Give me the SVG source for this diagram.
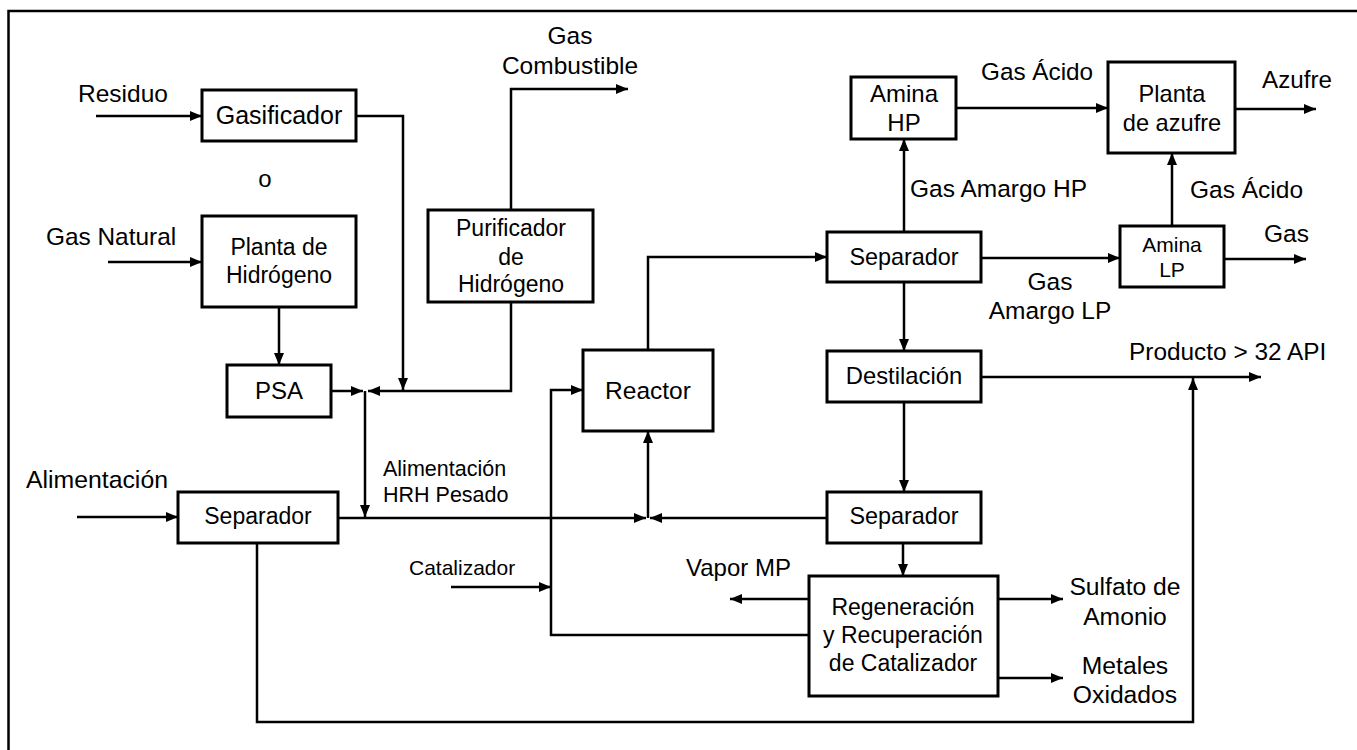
<svg xmlns="http://www.w3.org/2000/svg" width="1357" height="750" viewBox="0 0 1357 750">
<style>
.box{fill:#fff;stroke:#000;stroke-width:3}
.ln{fill:none;stroke:#000;stroke-width:2.5;marker-end:url(#ah)}
.lnp{fill:none;stroke:#000;stroke-width:2.5}
text{font-family:"Liberation Sans",Arial,sans-serif;fill:#000}
.c{text-anchor:middle}
</style>
<defs>
<marker id="ah" viewBox="0 0 12 10" markerUnits="userSpaceOnUse" markerWidth="12" markerHeight="10" refX="12" refY="5" orient="auto">
<path d="M0,0 L12,5 L0,10 z" fill="#000"/>
</marker>
</defs>
<rect x="0" y="0" width="1357" height="750" fill="#fff"/>
<rect x="8.5" y="11" width="1400" height="800" fill="none" stroke="#000" stroke-width="2.5"/>

<g id="connectors">
<path class="ln" d="M96,116 H202"/>
<path class="ln" d="M108,262 H202"/>
<path class="ln" d="M356,116 H403 V390"/>
<path class="ln" d="M279,307 V365"/>
<path class="ln" d="M331,391 H363"/>
<path class="ln" d="M511,302 V391 H368"/>
<path class="ln" d="M365,391 V517"/>
<path class="ln" d="M511,210 V89 H628"/>
<path class="ln" d="M77,517 H178"/>
<path class="ln" d="M338,518 H646"/>
<path class="ln" d="M827,518 H650"/>
<path class="ln" d="M648,518 V431"/>
<path class="ln" d="M648,350 V257 H827"/>
<path class="ln" d="M904,232 V139"/>
<path class="ln" d="M956,108 H1108"/>
<path class="ln" d="M1235,109 H1316"/>
<path class="ln" d="M981,258 H1120"/>
<path class="ln" d="M1172,226 V153"/>
<path class="ln" d="M1224,259 H1306"/>
<path class="ln" d="M904,282 V351"/>
<path class="ln" d="M981,377 H1261"/>
<path class="ln" d="M904,402 V492"/>
<path class="ln" d="M903,543 V576"/>
<path class="ln" d="M809,599 H730"/>
<path class="ln" d="M998,599 H1063"/>
<path class="ln" d="M998,678 H1063"/>
<path class="ln" d="M809,635 H551 V390 H583"/>
<path class="ln" d="M451,587 H551"/>
<path class="ln" d="M257,543 V722 H1193 V378"/>
</g>

<g id="gasificador"><rect class="box" x="202" y="90" width="154" height="51"/><text class="c" x="279" y="124" font-size="25">Gasificador</text></g>
<g id="planta-hidrogeno"><rect class="box" x="202" y="216" width="154" height="91"/><text class="c" x="279" y="255" font-size="23">Planta de</text><text class="c" x="279" y="283" font-size="23">Hidrógeno</text></g>
<g id="psa"><rect class="box" x="227" y="365" width="104" height="52"/><text class="c" x="279" y="399" font-size="24">PSA</text></g>
<g id="purificador"><rect class="box" x="428" y="210" width="165" height="92"/><text class="c" x="511" y="236" font-size="23">Purificador</text><text class="c" x="511" y="265" font-size="23">de</text><text class="c" x="511" y="292" font-size="23">Hidrógeno</text></g>
<g id="separador-1"><rect class="box" x="178" y="492" width="160" height="51"/><text class="c" x="258" y="524" font-size="23">Separador</text></g>
<g id="reactor"><rect class="box" x="583" y="350" width="130" height="81"/><text class="c" x="648" y="399" font-size="24.5">Reactor</text></g>
<g id="separador-2"><rect class="box" x="827" y="232" width="154" height="50"/><text class="c" x="904" y="265" font-size="23.4">Separador</text></g>
<g id="amina-hp"><rect class="box" x="851" y="77" width="105" height="62"/><text class="c" x="904" y="102" font-size="24">Amina</text><text class="c" x="904" y="131" font-size="24">HP</text></g>
<g id="planta-azufre"><rect class="box" x="1108" y="62" width="127" height="91"/><text class="c" x="1172" y="102" font-size="23.6">Planta</text><text class="c" x="1172" y="131" font-size="23.6">de azufre</text></g>
<g id="amina-lp"><rect class="box" x="1120" y="226" width="104" height="61"/><text class="c" x="1172" y="252" font-size="21">Amina</text><text class="c" x="1172" y="277" font-size="21">LP</text></g>
<g id="destilacion"><rect class="box" x="827" y="351" width="154" height="51"/><text class="c" x="904" y="384" font-size="23.8">Destilación</text></g>
<g id="separador-3"><rect class="box" x="827" y="492" width="154" height="51"/><text class="c" x="904" y="524" font-size="23.4">Separador</text></g>
<g id="regeneracion"><rect class="box" x="809" y="576" width="189" height="120"/><text class="c" x="903" y="615" font-size="23">Regeneración</text><text class="c" x="903" y="643" font-size="23">y Recuperación</text><text class="c" x="903" y="671" font-size="23">de Catalizador</text></g>

<g id="labels">
<text x="78" y="102" font-size="24.5">Residuo</text>
<text class="c" x="265" y="187" font-size="24">o</text>
<text x="46" y="245" font-size="24.4">Gas Natural</text>
<text class="c" x="570" y="44" font-size="24.5">Gas</text>
<text class="c" x="570" y="74" font-size="24.5">Combustible</text>
<text x="26" y="488" font-size="24.8">Alimentación</text>
<text x="383" y="476" font-size="21.5">Alimentación</text>
<text x="383" y="502" font-size="21.5">HRH Pesado</text>
<text x="409" y="575" font-size="21">Catalizador</text>
<text x="686" y="576" font-size="24">Vapor MP</text>
<text x="981" y="80" font-size="24.3">Gas Ácido</text>
<text x="1262" y="88" font-size="24.2">Azufre</text>
<text x="910" y="197" font-size="24.5">Gas Amargo HP</text>
<text x="1190" y="198" font-size="24.5">Gas Ácido</text>
<text x="1264" y="242" font-size="24.5">Gas</text>
<text class="c" x="1050" y="290" font-size="24.5">Gas</text>
<text class="c" x="1050" y="319" font-size="24.5">Amargo LP</text>
<text x="1129" y="360" font-size="24.4">Producto &gt; 32 API</text>
<text class="c" x="1125" y="595" font-size="24.7">Sulfato de</text>
<text class="c" x="1125" y="625" font-size="24.7">Amonio</text>
<text class="c" x="1125" y="674" font-size="24.7">Metales</text>
<text class="c" x="1125" y="703" font-size="24.7">Oxidados</text>
</g>
</svg>
